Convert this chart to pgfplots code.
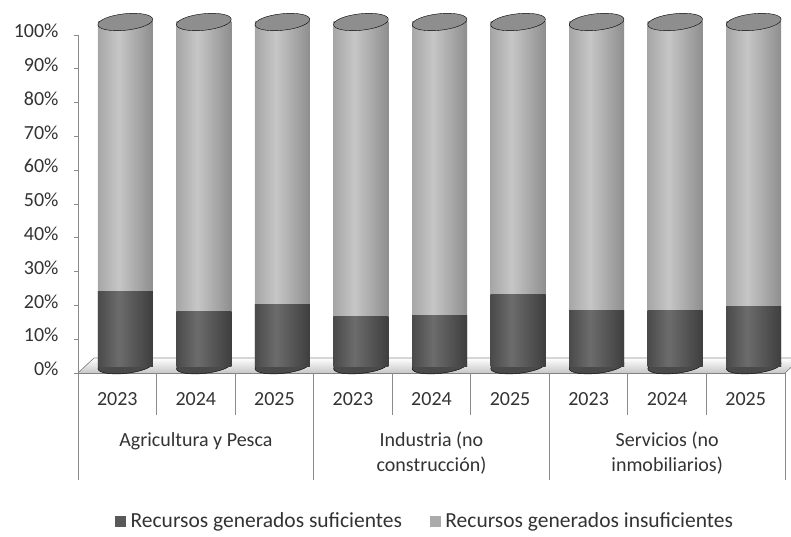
\documentclass[border=0pt]{standalone}
\usepackage{fontspec}
\setmainfont{Carlito}
\usepackage{pgfplots}
\pgfplotsset{compat=1.18}
\definecolor{dkE}{HTML}{4A4A4A}
\definecolor{dkM}{HTML}{6C6C6C}
\definecolor{dkR}{HTML}{3E3E3E}
\definecolor{ltE}{HTML}{A6A6A6}
\definecolor{ltM}{HTML}{C6C6C6}
\definecolor{ltR}{HTML}{8E8E8E}
\definecolor{dkL}{HTML}{595959}
\definecolor{ltL}{HTML}{ABABAB}
\definecolor{capc}{HTML}{8E8E8E}
\definecolor{axc}{HTML}{8A8A8A}
\definecolor{txt}{HTML}{333333}
\pgfdeclarehorizontalshading{darkcyl}{100bp}{color(0bp)=(dkE); color(25bp)=(dkE); color(44bp)=(dkM); color(75bp)=(dkR); color(100bp)=(dkR)}
\pgfdeclarehorizontalshading{lightcyl}{100bp}{color(0bp)=(ltE); color(25bp)=(ltE); color(44bp)=(ltM); color(75bp)=(ltR); color(100bp)=(ltR)}
\pgfplotsset{
  base/.style={
    scale only axis, width=707pt, height=338pt,
    at={(78pt,163pt)}, anchor=south west,
    xmin=-0.5, xmax=8.5, ymin=0, ymax=100,
    clip=false,
  },
  cylL/.style={ybar, bar width=55pt, bar shift=8pt, draw=none, shade, shading=lightcyl, forget plot},
  cylD/.style={ybar, bar width=55pt, bar shift=8pt, draw=none, shade, shading=darkcyl, forget plot},
}
\begin{document}
\begin{tikzpicture}[font=\fontsize{20}{24}\selectfont]
\useasboundingbox (0,0) rectangle (791pt,536pt);
% background axis: frame, ticks, labels, floor, legend
\begin{axis}[base,
  axis x line*=bottom, axis y line*=left,
  axis line style={axc, line width=0.8pt},
  xtick={0,...,8},
  xticklabels={2023,2024,2025,2023,2024,2025,2023,2024,2025},
  x tick style={draw=none},
  xticklabel style={yshift=-12pt, text=txt},
  ytick={0,10,...,100},
  yticklabels={0\%,10\%,20\%,30\%,40\%,50\%,60\%,70\%,80\%,90\%,100\%},
  y tick style={axc, line width=0.8pt},
  tick align=outside, major tick length=4pt,
  yticklabel style={xshift=-12pt, yshift=4pt, text=txt},
  legend style={at={(0.491,-0.438)}, anchor=center, draw=none, fill=none,
    legend columns=2, font=\fontsize{21.5}{25}\selectfont, text=txt,
    /tikz/every even column/.append style={column sep=26pt},
    /tikz/every odd column/.append style={column sep=3pt}},
  legend cell align=left,
]
% floor
\fill[top color=white, bottom color=black!22]
  (axis cs:-0.5,0) -- (axis cs:8.5,0) -- ([xshift=16pt,yshift=15pt]axis cs:8.5,0)
  -- ([xshift=16pt,yshift=15pt]axis cs:-0.5,0) -- cycle;
\draw[axc, line width=0.6pt] (axis cs:-0.5,0) -- ([xshift=16pt,yshift=15pt]axis cs:-0.5,0)
  -- ([xshift=16pt,yshift=15pt]axis cs:8.5,0) -- (axis cs:8.5,0);
% category separators
\draw[axc, line width=0.8pt] (axis cs:-0.5,0) -- ++(0pt,-107pt);
\draw[axc, line width=0.8pt] (axis cs:0.5,0) -- ++(0pt,-42pt);
\draw[axc, line width=0.8pt] (axis cs:1.5,0) -- ++(0pt,-42pt);
\draw[axc, line width=0.8pt] (axis cs:2.5,0) -- ++(0pt,-107pt);
\draw[axc, line width=0.8pt] (axis cs:3.5,0) -- ++(0pt,-42pt);
\draw[axc, line width=0.8pt] (axis cs:4.5,0) -- ++(0pt,-42pt);
\draw[axc, line width=0.8pt] (axis cs:5.5,0) -- ++(0pt,-107pt);
\draw[axc, line width=0.8pt] (axis cs:6.5,0) -- ++(0pt,-42pt);
\draw[axc, line width=0.8pt] (axis cs:7.5,0) -- ++(0pt,-42pt);
\draw[axc, line width=0.8pt] (axis cs:8.5,0) -- ++(0pt,-107pt);
% group labels
\node[text=txt] at ([yshift=-68pt]axis cs:1,0) {Agricultura y Pesca};
\node[text=txt] at ([yshift=-68pt]axis cs:4,0) {Industria (no};
\node[text=txt] at ([yshift=-93pt]axis cs:4,0) {construcción)};
\node[text=txt] at ([yshift=-68pt]axis cs:7,0) {Servicios (no};
\node[text=txt] at ([yshift=-93pt]axis cs:7,0) {inmobiliarios)};
% rounded cylinder bottoms (cylinders stand at mid-depth of the floor)
\addplot[only marks, mark=*, mark size=27.5pt,
  mark options={xshift=8pt, yshift=7pt, rotate=6, yscale=0.27, fill=dkE, draw=none}, forget plot]
  coordinates {(0,0) (1,0) (2,0) (3,0) (4,0) (5,0) (6,0) (7,0) (8,0)};
\addlegendimage{legend image code/.code={\fill[dkL] (0pt,-5pt) rectangle (10pt,5pt);}}
\addlegendentry{Recursos generados suficientes}
\addlegendimage{legend image code/.code={\fill[ltL] (0pt,-5pt) rectangle (10pt,5pt);}}
\addlegendentry{Recursos generados insuficientes}
\end{axis}
% cylinders, set at mid-depth of the 3D floor: full light cylinder (= 100%), dark part in front
\begin{axis}[base, hide axis, at={(78pt,170pt)}, height=344pt]
\addplot[cylL] coordinates {(0,100)};
\addplot[cylD] coordinates {(0,21.8)};
\addplot[cylL] coordinates {(1,100)};
\addplot[cylD] coordinates {(1,15.8)};
\addplot[cylL] coordinates {(2,100)};
\addplot[cylD] coordinates {(2,17.8)};
\addplot[cylL] coordinates {(3,100)};
\addplot[cylD] coordinates {(3,14.3)};
\addplot[cylL] coordinates {(4,100)};
\addplot[cylD] coordinates {(4,14.8)};
\addplot[cylL] coordinates {(5,100)};
\addplot[cylD] coordinates {(5,20.7)};
\addplot[cylL] coordinates {(6,100)};
\addplot[cylD] coordinates {(6,16.1)};
\addplot[cylL] coordinates {(7,100)};
\addplot[cylD] coordinates {(7,16.1)};
\addplot[cylL] coordinates {(8,100)};
\addplot[cylD] coordinates {(8,17.4)};
% cylinder tops
\addplot[only marks, mark=*, mark size=27.5pt,
  mark options={xshift=8pt, rotate=6, yscale=0.3, fill=capc, draw=none}]
  coordinates {(0,100) (1,100) (2,100) (3,100) (4,100) (5,100) (6,100) (7,100) (8,100)};
\end{axis}
\end{tikzpicture}
\end{document}
